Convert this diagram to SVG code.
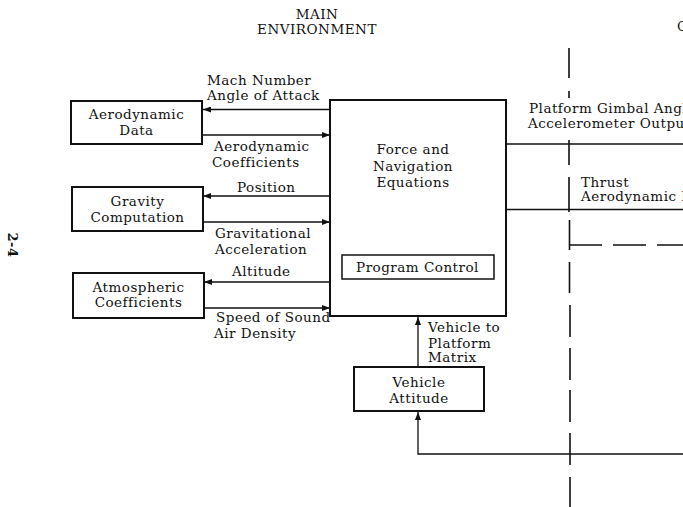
<svg xmlns="http://www.w3.org/2000/svg" width="683" height="507" viewBox="0 0 683 507">
<defs>
<style>
text{font-family:"DejaVu Serif","Liberation Serif",serif;font-size:13.5px;fill:#111;letter-spacing:0.5px;}
.c{text-anchor:middle;}
.box{fill:#fff;stroke:#111;stroke-width:2;}
.ln{fill:none;stroke:#111;stroke-width:1.3;}
.dash{fill:none;stroke:#111;stroke-width:1.6;}
</style>
<marker id="ah" viewBox="0 0 8 6" refX="8" refY="3" markerWidth="8" markerHeight="6" markerUnits="userSpaceOnUse" orient="auto">
<path d="M0,0 L8,3 L0,6 z" fill="#111"/>
</marker>
</defs>
<rect width="683" height="507" fill="#fff"/>
<g id="title">
<text class="c" x="317" y="19">MAIN</text>
<text class="c" x="317" y="34">ENVIRONMENT</text>
<text x="677" y="31">C</text>
</g>
<text id="page" x="0" y="0" transform="translate(8,245) rotate(90)" text-anchor="middle" style="font-weight:bold;font-size:13px">2-4</text>
<g id="connectors">
<path class="ln" d="M330,109.5 H203" marker-end="url(#ah)"/>
<path class="ln" d="M202,135 H330" marker-end="url(#ah)"/>
<path class="ln" d="M330,196 H203" marker-end="url(#ah)"/>
<path class="ln" d="M203,222 H330" marker-end="url(#ah)"/>
<path class="ln" d="M330,282 H204" marker-end="url(#ah)"/>
<path class="ln" d="M204,308 H330" marker-end="url(#ah)"/>
<path class="ln" d="M418,367 V317" marker-end="url(#ah)"/>
<path class="ln" d="M683,454 H418 V412" marker-end="url(#ah)"/>
<path class="ln" d="M506,144 H683"/>
<path class="ln" d="M506,209.5 H683"/>
<path class="dash" d="M569,48 V78 M569,91 V98 M569,140 V165 M569,177 V212 M569.5,220 V250 M569.5,262 V293 M570,305 V337 M570,348 V380 M570,390 V422 M570,433 V465 M570,477 V507"/>
<path class="dash" d="M569.5,245 H602 M613,245 H646 M657,245 H683"/>
</g>
<g id="aero">
<rect class="box" x="71" y="101" width="131" height="43"/>
<text class="c" x="136.5" y="119">Aerodynamic</text>
<text class="c" x="136.5" y="135">Data</text>
</g>
<g id="gravity">
<rect class="box" x="72" y="187" width="131" height="44"/>
<text class="c" x="137.5" y="206">Gravity</text>
<text class="c" x="137.5" y="222">Computation</text>
</g>
<g id="atmos">
<rect class="box" x="73" y="273" width="131" height="45"/>
<text class="c" x="138.5" y="292">Atmospheric</text>
<text class="c" x="138.5" y="307">Coefficients</text>
</g>
<g id="force">
<rect class="box" x="330" y="100" width="176" height="216"/>
<text class="c" x="413" y="154">Force and</text>
<text class="c" x="413" y="171">Navigation</text>
<text class="c" x="413" y="187">Equations</text>
</g>
<g id="program">
<rect class="box" x="342" y="255" width="152" height="24" style="stroke-width:1.5"/>
<text class="c" x="417.5" y="272">Program Control</text>
</g>
<g id="attitude">
<rect class="box" x="354" y="367" width="130" height="44"/>
<text class="c" x="419" y="387">Vehicle</text>
<text class="c" x="419" y="403">Attitude</text>
</g>
<g id="labels">
<text x="207" y="85">Mach Number</text>
<text x="207" y="99.5">Angle of Attack</text>
<text x="214" y="151">Aerodynamic</text>
<text x="212" y="167">Coefficients</text>
<text x="237" y="192">Position</text>
<text x="215" y="238">Gravitational</text>
<text x="215" y="254">Acceleration</text>
<text x="232" y="276">Altitude</text>
<text x="216" y="322">Speed of Sound</text>
<text x="214" y="338">Air Density</text>
<text x="428" y="332">Vehicle to</text>
<text x="428" y="347.5">Platform</text>
<text x="428" y="362">Matrix</text>
<text x="529" y="113">Platform Gimbal Angles</text>
<text x="528" y="128">Accelerometer Outputs</text>
<text x="581" y="187">Thrust</text>
<text x="581" y="201">Aerodynamic Forces</text>
</g>
</svg>
